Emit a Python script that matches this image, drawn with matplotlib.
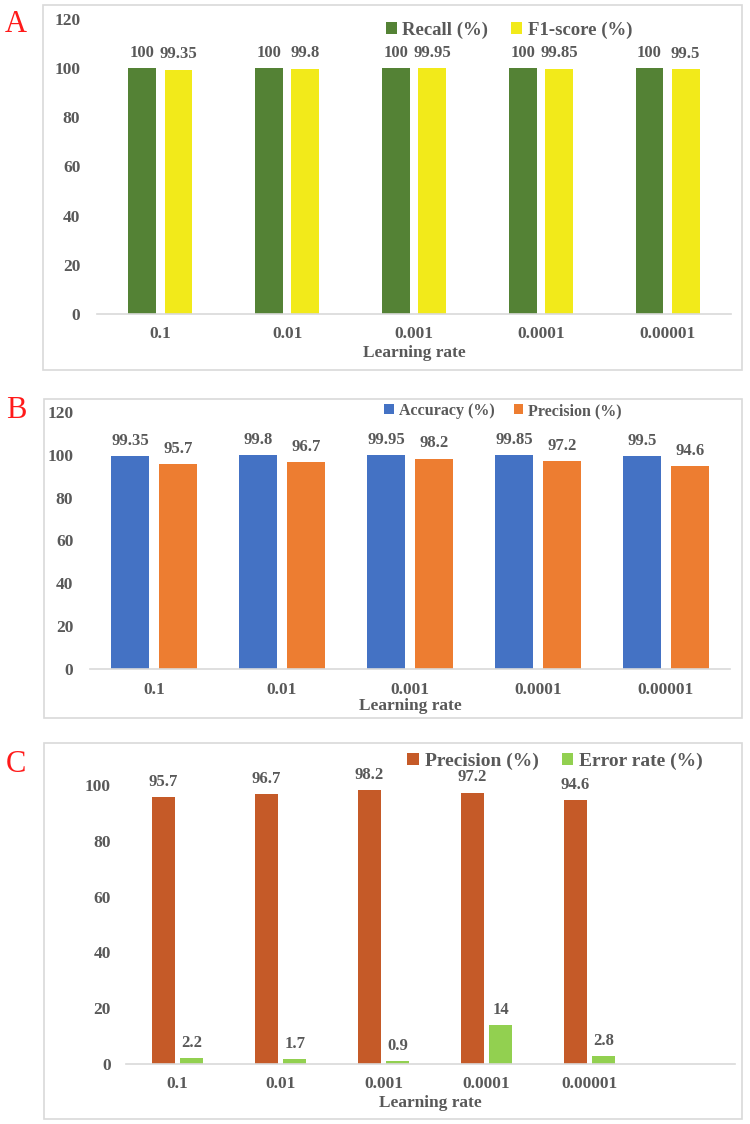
import numpy as np
import matplotlib
matplotlib.use("Agg")
import matplotlib.pyplot as plt
from matplotlib.patches import Rectangle

plt.rcParams['font.family'] = ['Liberation Serif', 'DejaVu Serif']
plt.rcParams['font.weight'] = 'bold'

# data
rates = ['0.1', '0.01', '0.001', '0.0001', '0.00001']
recall = [100, 100, 100, 100, 100]
f1 = [99.35, 99.8, 99.95, 99.85, 99.5]
accuracy = [99.35, 99.8, 99.95, 99.85, 99.5]
precision = [95.7, 96.7, 98.2, 97.2, 94.6]
error_rate = [2.2, 1.7, 0.9, 14, 2.8]

W, H = 750, 1124
grey = '#595959'
spine = '#d9d9d9'

fig = plt.figure(figsize=(W/100, H/100), dpi=100)


def rect(l, t, r, b):
    return [l/W, 1 - b/H, (r - l)/W, (b - t)/H]


def box(l, t, r, b, letter, ly):
    fig.patches.append(Rectangle((l/W, 1 - b/H), (r - l)/W, (b - t)/H,
                                 transform=fig.transFigure, fill=False,
                                 edgecolor=spine, lw=1.2))
    fig.text(16/W, 1 - ly/H, letter, color='#ff1a1a', fontsize=22,
             fontweight='normal', ha='center', va='center')


def panel(pos, s1, s2, names, colors, w, off, ylim, yticks, xmax,
          leg_xy, leg_fs, xl_pad, ypad):
    ax = fig.add_axes(rect(*pos))
    x = np.arange(len(rates))
    b1 = ax.bar(x - off, s1, w, color=colors[0], label=names[0])
    b2 = ax.bar(x + off, s2, w, color=colors[1], label=names[1])
    for bars, vals in ((b1, s1), (b2, s2)):
        for b, v in zip(bars, vals):
            ax.annotate('%g' % v, (b.get_x() + b.get_width()/2, v),
                        xytext=(0, 11), textcoords='offset points',
                        ha='center', va='center', color=grey, fontsize=12,
                        fontweight='bold')
    ax.set_xlim(-0.5, xmax)
    ax.set_ylim(*ylim)
    ax.set_yticks(yticks)
    ax.set_xticks(x)
    ax.set_xticklabels(rates)
    ax.tick_params(length=0, labelsize=12.5, labelcolor=grey)
    ax.tick_params(axis='y', pad=ypad)
    ax.tick_params(axis='x', pad=9)
    for s in ['top', 'right', 'left']:
        ax.spines[s].set_visible(False)
    ax.spines['bottom'].set_color(spine)
    ax.spines['bottom'].set_linewidth(1.2)
    ax.set_xlabel('Learning rate', color=grey, fontsize=12.5,
                  fontweight='bold', labelpad=xl_pad)
    ax.patch.set_alpha(0)
    fig.legend(handles=[b1, b2], loc='center',
               bbox_to_anchor=(leg_xy[0]/W, 1 - leg_xy[1]/H), ncol=2,
               frameon=False, fontsize=leg_fs, handlelength=0.6,
               handleheight=0.6, handletextpad=0.3, columnspacing=1.2,
               labelcolor=grey)
    return ax


# panel A
box(43, 5, 742, 370, 'A', 25)
panel((97, 19, 731, 314), recall, f1, ['Recall (%)', 'F1-score (%)'],
      ['#548235', '#f2ea1a'], 0.22, 0.1425, (0, 120), range(0, 121, 20),
      4.5, (509, 30), 13.5, 2, 12)

# panel B
box(44, 399, 742, 718, 'B', 410)
panel((90, 412, 730, 669), accuracy, precision,
      ['Accuracy (%)', 'Precision (%)'], ['#4472c4', '#ed7d31'],
      0.30, 0.188, (0, 120), range(0, 121, 20), 4.5, (503, 411), 11.5,
      0, 12)

# panel C
box(44, 743, 742, 1119, 'C', 765)
panel((126, 757, 735, 1064), precision, error_rate,
      ['Precision (%)', 'Error rate (%)'], ['#c55a28', '#92d050'],
      0.224, 0.14, (0, 110), range(0, 101, 20), -0.5 + 609/103,
      (555, 761), 14, 2, 11)

plt.savefig('out.png', dpi=100)
